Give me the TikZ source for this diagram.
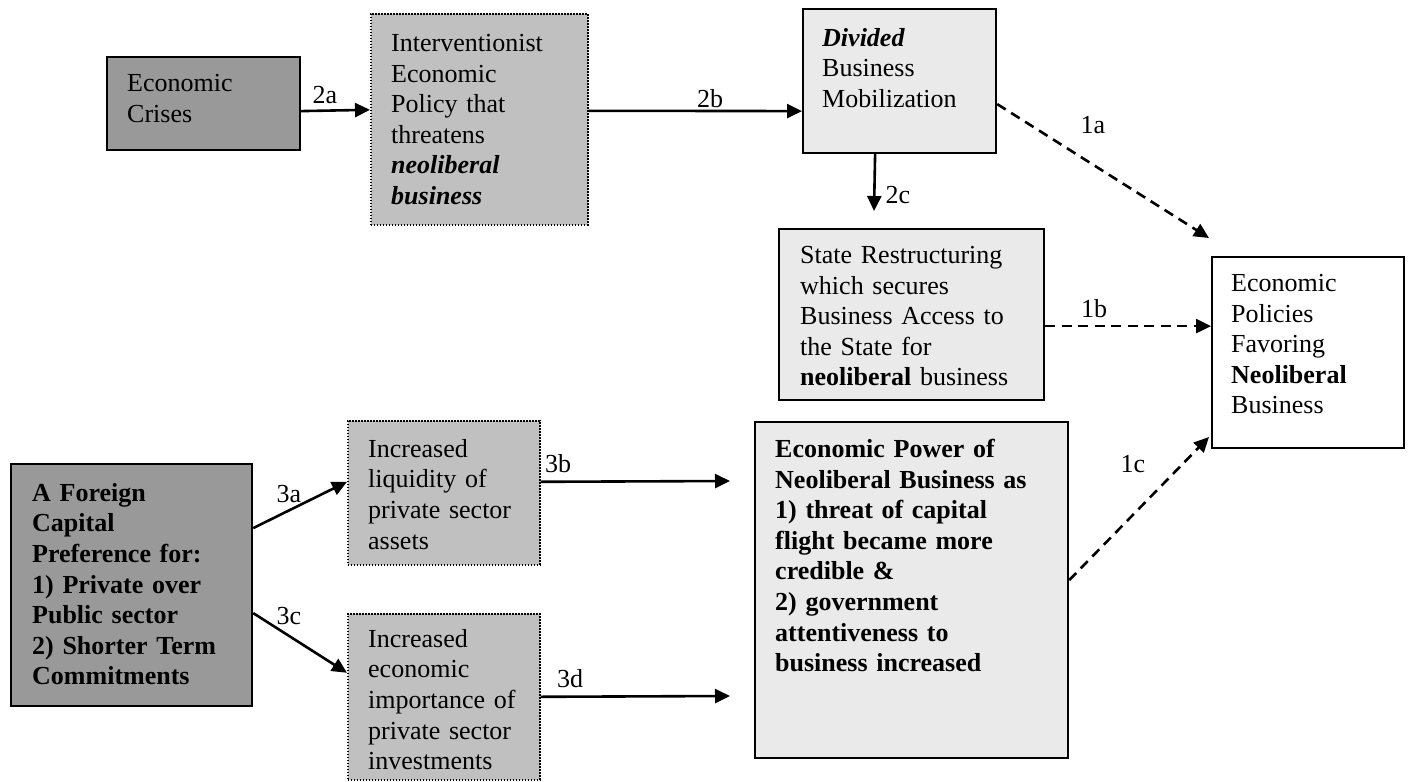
\documentclass[tikz,border=0pt]{standalone}
\usepackage{fontspec}
\setmainfont{Liberation Serif}
\usetikzlibrary{arrows.meta,calc}
\definecolor{darkbox}{RGB}{153,153,153}
\definecolor{midbox}{RGB}{192,192,192}
\definecolor{lightbox}{RGB}{234,234,234}
\tikzset{
  boxbase/.style={rectangle, inner sep=0pt, anchor=north west},
  solidbox/.style={boxbase, draw=black, line width=2.2pt},
  dotbox/.style={boxbase, draw=black, line width=1.6pt, dash pattern=on 1.6pt off 1.4pt, fill=midbox},
  txt/.style={inner sep=0pt, anchor=north west, text width=320pt, align=left,
    font=\fontsize{26}{30.6}\selectfont},
  lbl/.style={inner sep=0pt, anchor=base, font=\fontsize{26}{30.6}\selectfont},
  conn/.style={line width=2.6pt, -{Triangle[length=15pt,width=14pt]}},
  dashconn/.style={conn, dash pattern=on 10pt off 6.5pt}
}
\begin{document}
\begin{tikzpicture}[x=1pt,y=-1pt]
\useasboundingbox (0,0) rectangle (1412,781);
% boxes
\node[solidbox, fill=darkbox, minimum width=193pt, minimum height=93pt] (A) at (106,56) {};
\node[dotbox, minimum width=217pt, minimum height=211pt] (B) at (370,13) {};
\node[solidbox, fill=lightbox, minimum width=193pt, minimum height=144pt] (C) at (802,8) {};
\node[solidbox, fill=lightbox, minimum width=265pt, minimum height=171pt] (D) at (778,228) {};
\node[solidbox, fill=white, minimum width=192pt, minimum height=191pt] (E) at (1211,256) {};
\node[solidbox, fill=lightbox, minimum width=313pt, minimum height=336pt] (F) at (754,421) {};
\node[solidbox, fill=darkbox, minimum width=241pt, minimum height=242pt] (G) at (10,463) {};
\node[dotbox, minimum width=192pt, minimum height=144pt] (H) at (347,420) {};
\node[dotbox, minimum width=192pt, minimum height=166pt] (I) at (347,613) {};
% texts
\node[txt] (At) at (127,74) {Economic\\Crises};
\node[txt] (Bt) at (391,34) {Interventionist\\Economic\\Policy that\\threatens\\\textbf{\textit{neoliberal}}\\\textbf{\textit{business}}};
\node[txt] (Ct) at (822,28) {\textbf{\textit{Divided}}\\Business\\Mobilization};
\node[txt] (Dt) at (800,246) {State Restructuring\\which secures\\Business Access to\\the State for\\\textbf{neoliberal} business};
\node[txt] (Et) at (1231,274) {Economic\\Policies\\Favoring\\\textbf{Neoliberal}\\Business};
\node[txt, font=\fontsize{26}{30.6}\selectfont\bfseries] (Ft) at (775,439) {Economic Power of\\Neoliberal Business as\\1) threat of capital\\flight became more\\credible \&\\2) government\\attentiveness to\\business increased};
\node[txt, font=\fontsize{26}{30.6}\selectfont\bfseries] (Gt) at (32,483) {A Foreign\\Capital\\Preference for:\\1) Private over\\Public sector\\2) Shorter Term\\Commitments};
\node[txt] (Ht) at (368,439) {Increased\\liquidity of\\private sector\\assets};
\node[txt] (It) at (368,629) {Increased\\economic\\importance of\\private sector\\investments};
% free arrow ends
\coordinate (c2c) at (874,211);
\coordinate (c1a) at (1209,238);
\coordinate (c1c) at (1209,437);
\coordinate (c3b) at (730,481);
\coordinate (c3d) at (730,696);
% connectors
\draw[conn] ([yshift=-7.5pt]A.east) -- ([yshift=9.5pt]B.west);
\draw[conn] ([yshift=8.5pt]B.east) -- ([yshift=-30pt]C.west);
\draw[conn] ([xshift=-24.5pt]C.south) -- (c2c);
\draw[dashconn] ([yshift=-23pt]C.east) -- (c1a);
\draw[dashconn] ([yshift=-11.5pt]D.east) -- ([yshift=26.5pt]E.west);
\draw[dashconn] ([yshift=10pt]F.east) -- (c1c);
\draw[conn] ([yshift=57pt]G.east) -- ([yshift=11pt]H.west);
\draw[conn] ([yshift=-28pt]G.east) -- ([yshift=24pt]I.west);
\draw[conn] ([yshift=11pt]H.east) -- (c3b);
\draw[conn] ([yshift=0pt]I.east) -- (c3d);
% labels
\node[lbl] (l2a) at (325,104) {2a};
\node[lbl] (l2b) at (710,108) {2b};
\node[lbl] (l2c) at (898,203) {2c};
\node[lbl] (l1a) at (1093,133) {1a};
\node[lbl] (l1b) at (1094,317) {1b};
\node[lbl] (l1c) at (1133,472) {1c};
\node[lbl] (l3a) at (289,502) {3a};
\node[lbl] (l3b) at (558,472) {3b};
\node[lbl] (l3c) at (289,624) {3c};
\node[lbl] (l3d) at (570,687) {3d};
\end{tikzpicture}
\end{document}
